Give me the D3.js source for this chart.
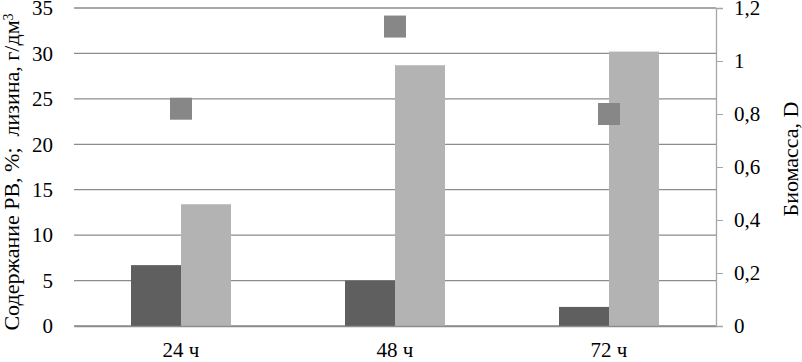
<!DOCTYPE html>
<html>
<head>
<meta charset="utf-8">
<script src="https://cdn.jsdelivr.net/npm/d3@7"></script>
<style>
  body { margin: 0; background: #fff; }
  svg { display: block; font-family: "Liberation Serif", "Times New Roman", serif; }
</style>
</head>
<body>
<script>
// données
const categories = ['24 ч', '48 ч', '72 ч'];
const rvValues = [6.7, 5.0, 2.1];        // Содержание РВ, %
const lysineValues = [13.4, 28.7, 30.2]; // лизина, г/дм3
const biomassValues = [0.82, 1.13, 0.80]; // Биомасса, D
const leftTicks = [0, 5, 10, 15, 20, 25, 30, 35];
const rightTicks = [0, 0.2, 0.4, 0.6, 0.8, 1, 1.2];

const width = 802;
const height = 362;
const margin = { top: 8, right: 86, bottom: 36, left: 74 };
const fontFamily = '"Liberation Serif", serif';

const svg = d3.select('body')
  .append('svg')
  .attr('width', width)
  .attr('height', height);

// échelles
const x = d3.scaleBand()
  .domain(categories)
  .range([margin.left, width - margin.right]);

const xInner = d3.scaleBand()
  .domain(['rv', 'lys'])
  .range([-50, 50]);

const yLeft = d3.scaleLinear()
  .domain([0, 35])
  .range([height - margin.bottom, margin.top]);

const yRight = d3.scaleLinear()
  .domain([0, 1.2])
  .range([height - margin.bottom, margin.top]);

// grille
svg.append('g')
  .selectAll('line')
  .data(leftTicks)
  .join('line')
    .attr('x1', margin.left)
    .attr('x2', width - margin.right)
    .attr('y1', d => yLeft(d))
    .attr('y2', d => yLeft(d))
    .attr('stroke', '#8c8c8c')
    .attr('stroke-width', 1.3);

// barres
const groups = svg.append('g')
  .selectAll('g')
  .data(categories.map((c, i) => ({ cat: c, rv: rvValues[i], lys: lysineValues[i] })))
  .join('g')
    .attr('transform', d => `translate(${x(d.cat) + x.bandwidth() / 2},0)`);

groups.append('rect')
  .attr('x', xInner('rv'))
  .attr('width', xInner.bandwidth())
  .attr('y', d => yLeft(d.rv))
  .attr('height', d => yLeft(0) - yLeft(d.rv))
  .attr('fill', '#5f5f5f');

groups.append('rect')
  .attr('x', xInner('lys'))
  .attr('width', xInner.bandwidth())
  .attr('y', d => yLeft(d.lys))
  .attr('height', d => yLeft(0) - yLeft(d.lys))
  .attr('fill', '#b3b3b3');

// marqueurs biomasse
const m = 22;
svg.append('g')
  .selectAll('rect')
  .data(biomassValues)
  .join('rect')
    .attr('x', (d, i) => x(categories[i]) + x.bandwidth() / 2 - m / 2)
    .attr('y', d => yRight(d) - m / 2)
    .attr('width', m)
    .attr('height', m)
    .attr('fill', '#878787');

// axe horizontal
const xAxis = svg.append('g')
  .attr('transform', `translate(0,${height - margin.bottom})`)
  .call(d3.axisBottom(x).tickSize(0).tickPadding(16))
  .call(g => g.select('.domain').attr('stroke', '#8c8c8c').attr('stroke-width', 1.3));
xAxis.selectAll('text')
  .attr('font-size', '21px')
  .attr('font-family', fontFamily)
  .attr('fill', '#000');

// axe vertical gauche
const leftAxis = svg.append('g')
  .attr('transform', `translate(${margin.left},0)`)
  .call(d3.axisLeft(yLeft).tickValues(leftTicks).tickSize(0).tickPadding(21))
  .call(g => g.select('.domain').remove());
leftAxis.selectAll('text')
  .attr('font-size', '21px')
  .attr('font-family', fontFamily)
  .attr('fill', '#000');

// axe vertical droit
const fmt = d => String(d).replace('.', ',');
const rightAxis = svg.append('g')
  .attr('transform', `translate(${width - margin.right},0)`)
  .call(d3.axisRight(yRight).tickValues(rightTicks).tickSize(7).tickPadding(11).tickFormat(fmt))
  .call(g => g.select('.domain').attr('stroke', '#a6a6a6').attr('stroke-width', 1.3))
  .call(g => g.selectAll('.tick line').attr('stroke', '#a6a6a6'));
rightAxis.selectAll('text')
  .attr('font-size', '21px')
  .attr('font-family', fontFamily)
  .attr('fill', '#000');

// titres des axes
const leftTitle = svg.append('text')
  .attr('transform', `translate(19,172) rotate(-90)`)
  .attr('text-anchor', 'middle')
  .attr('font-size', '22px')
  .attr('font-family', fontFamily)
  .attr('fill', '#000')
  .attr('xml:space', 'preserve')
  .style('white-space', 'pre');
leftTitle.append('tspan').text('Содержание РВ, %;  лизина, г/дм');
leftTitle.append('tspan').attr('dy', '-0.45em').attr('font-size', '14px').text('3');

svg.append('text')
  .attr('transform', `translate(798,159) rotate(-90)`)
  .attr('text-anchor', 'middle')
  .attr('font-size', '22px')
  .attr('font-family', fontFamily)
  .attr('fill', '#000')
  .text('Биомасса, D');
</script>
</body>
</html>
